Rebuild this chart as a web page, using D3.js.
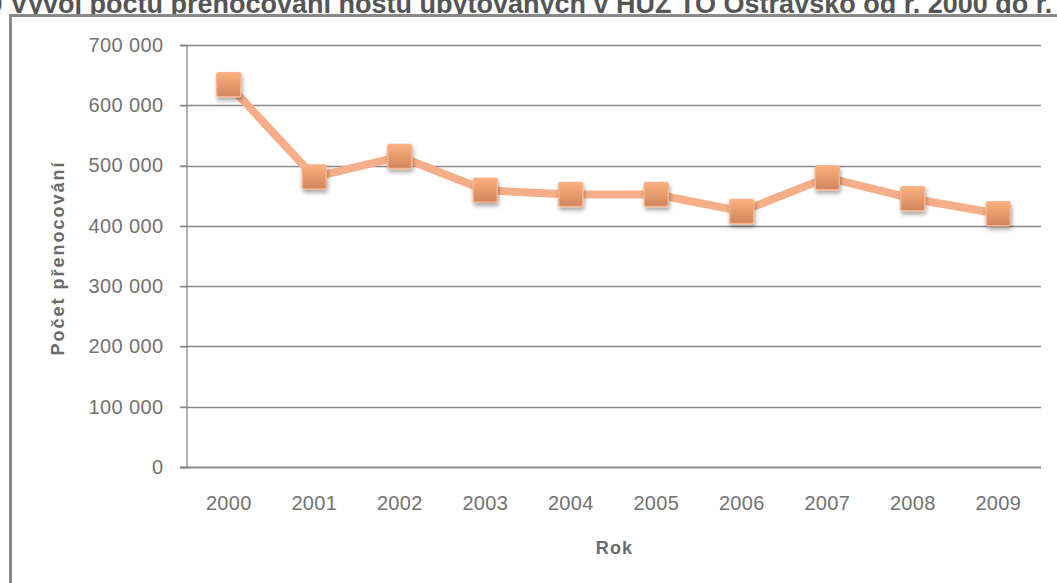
<!doctype html>
<html>
<head>
<meta charset="utf-8">
<style>
    body { margin: 0; background: #fff; }
    svg { display: block; font-family: "Liberation Sans", Arial, sans-serif; }
</style>
</head>
<body>

<div id="container"></div>

<script src="https://cdn.jsdelivr.net/npm/d3@7"></script>
<script type="text/javascript">

    var years = ["2000", "2001", "2002", "2003", "2004", "2005", "2006", "2007", "2008", "2009"];
    var nights = [634000, 481000, 515000, 459000, 452000, 452000, 424000, 480000, 445000, 420000];
    var yTicks = [0, 100000, 200000, 300000, 400000, 500000, 600000, 700000];
    var titlePrefix = "Graf č. 10 ";
    var titleText = "Vývoj počtu přenocování hostů ubytovaných v HUZ TO Ostravsko od r. 2000 do r. 2009";
    var xTitle = "Rok";
    var yTitle = "Počet přenocování";

    var width = 1057, height = 583;
    var plot = {left: 186, right: 1041, top: 45, bottom: 467};

    var svg = d3.select("#container").append("svg")
        .attr("width", width)
        .attr("height", height);

    var defs = svg.append("defs");
    var grad = defs.append("linearGradient")
        .attr("id", "mk")
        .attr("x1", 0).attr("y1", 0).attr("x2", 0).attr("y2", 1);
    grad.append("stop").attr("offset", "0%").attr("stop-color", "#fdb07e");
    grad.append("stop").attr("offset", "100%").attr("stop-color", "#cf845d");

    var shadow = defs.append("filter")
        .attr("id", "shadow")
        .attr("x", "-50%").attr("y", "-50%")
        .attr("width", "200%").attr("height", "200%");
    shadow.append("feDropShadow")
        .attr("dx", 1).attr("dy", 3)
        .attr("stdDeviation", 2)
        .attr("flood-color", "#000")
        .attr("flood-opacity", 0.35);

    // title, clipped by the page edges like in the source
    var title = svg.append("text")
        .attr("y", 13)
        .attr("font-size", "27px")
        .attr("font-weight", "bold")
        .attr("fill", "#555");
    title.append("tspan").attr("class", "pre").text(titlePrefix);
    title.append("tspan").text(titleText);
    var preW = title.select(".pre").node().getComputedTextLength();
    title.attr("x", 10 - preW);

    // chart area with frame (cut off at right and bottom)
    svg.append("rect")
        .attr("x", 10).attr("y", 15)
        .attr("width", width).attr("height", height)
        .attr("fill", "#fff");
    svg.append("path")
        .attr("d", "M10.5," + (height + 5) + "V15.5H" + (width + 5))
        .attr("fill", "none")
        .attr("stroke", "#898989")
        .attr("stroke-width", 3);

    var x = d3.scaleBand()
        .domain(years)
        .range([plot.left, plot.right])
        .padding(0);

    var y = d3.scaleLinear()
        .domain([0, 700000])
        .range([plot.bottom, plot.top]);

    var fmt = d3.formatLocale({decimal: ",", thousands: " ", grouping: [3], currency: ["", " Kč"]}).format(",d");

    // gridlines
    svg.append("g")
        .selectAll("line")
        .data(yTicks.filter(function (d) { return d > 0; }))
        .enter().append("line")
        .attr("x1", plot.left - 6)
        .attr("x2", plot.right)
        .attr("y1", function (d) { return Math.round(y(d)) + 0.5; })
        .attr("y2", function (d) { return Math.round(y(d)) + 0.5; })
        .attr("stroke", "#878787")
        .attr("stroke-width", 1.3);

    // y axis
    var yAxis = d3.axisLeft(y)
        .tickValues(yTicks)
        .tickSize(6)
        .tickPadding(17)
        .tickFormat(fmt);

    var gy = svg.append("g")
        .attr("transform", "translate(" + (plot.left + 0.5) + ",0)")
        .call(yAxis);
    gy.select(".domain").attr("stroke", "#878787").attr("stroke-width", 1.3);
    gy.selectAll(".tick line").attr("stroke", "#878787").attr("stroke-width", 1.3);
    gy.selectAll(".tick text")
        .attr("font-size", "20px")
        .attr("letter-spacing", "0.4px")
        .attr("font-family", "Liberation Sans, Arial, sans-serif")
        .attr("fill", "#727272");

    // x axis
    var xAxis = d3.axisBottom(x)
        .tickSize(0)
        .tickPadding(28);

    var gx = svg.append("g")
        .attr("transform", "translate(0," + (Math.round(plot.bottom) + 0.5) + ")")
        .call(xAxis);
    gx.select(".domain")
        .attr("d", "M" + (plot.left - 6) + ",0H" + plot.right)
        .attr("stroke", "#878787").attr("stroke-width", 2);
    gx.selectAll(".tick text")
        .attr("font-size", "20px")
        .attr("letter-spacing", "0.3px")
        .attr("font-family", "Liberation Sans, Arial, sans-serif")
        .attr("fill", "#727272");

    // axis titles
    svg.append("text")
        .attr("x", (plot.left + plot.right) / 2 + 1)
        .attr("y", 554)
        .attr("text-anchor", "middle")
        .attr("font-size", "18px")
        .attr("font-weight", "bold")
        .attr("letter-spacing", "1.2px")
        .attr("fill", "#6a6a6a")
        .text(xTitle);

    svg.append("text")
        .attr("transform", "translate(64," + ((plot.top + plot.bottom) / 2 + 2) + ") rotate(-90)")
        .attr("text-anchor", "middle")
        .attr("font-size", "18px")
        .attr("font-weight", "bold")
        .attr("letter-spacing", "2px")
        .attr("fill", "#6a6a6a")
        .text(yTitle);

    // line
    var line = d3.line()
        .x(function (d, i) { return x(years[i]) + x.bandwidth() / 2; })
        .y(function (d) { return y(d); });

    svg.append("path")
        .datum(nights)
        .attr("d", line)
        .attr("fill", "none")
        .attr("stroke", "#f6ae88")
        .attr("stroke-width", 8)
        .attr("stroke-linejoin", "round");

    // markers
    var ms = 24;
    svg.append("g")
        .selectAll("rect")
        .data(nights)
        .enter().append("rect")
        .attr("x", function (d, i) { return x(years[i]) + x.bandwidth() / 2 - ms / 2; })
        .attr("y", function (d) { return y(d) - ms / 2; })
        .attr("width", ms)
        .attr("height", ms)
        .attr("rx", 2)
        .attr("fill", "url(#mk)")
        .attr("stroke", "#f8b38d")
        .attr("stroke-width", 1.5)
        .attr("filter", "url(#shadow)");

</script>
</body>
</html>
